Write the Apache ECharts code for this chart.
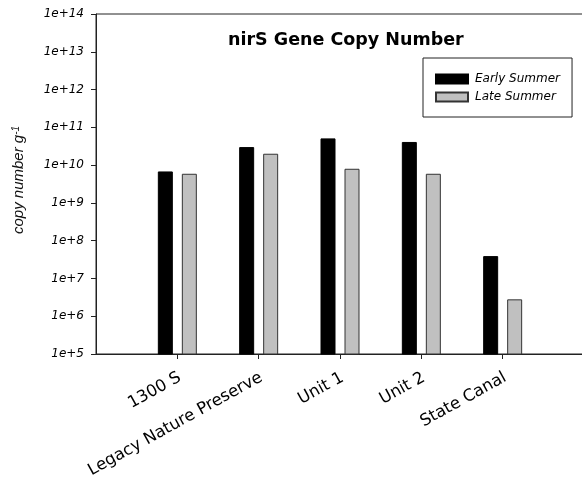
<!DOCTYPE html>
<html><head><meta charset="utf-8">
<script src="https://cdn.jsdelivr.net/npm/echarts@6/dist/echarts.min.js"></script>
<style>html,body{margin:0;padding:0;background:#fff}#c{width:582px;height:483px}</style>
</head><body><div id="c"></div>
<script>
// categories (blank slots pad the axis at both ends, as in the original)
const categories = ['', '1300 S', 'Legacy Nature Preserve', 'Unit 1', 'Unit 2', 'State Canal', ''];
const earlySummer = [null, 6.8e9, 3.0e10, 5.1e10, 4.1e10, 3.9e7, null];
const lateSummer  = [null, 5.9e9, 2.0e10, 8.0e9, 5.9e9, 2.8e6, null];
const seriesNames = ['Early Summer', 'Late Summer'];
const yMin = 1e5, yMax = 1e14;
const titleText = 'nirS Gene Copy Number';

const chart = echarts.init(document.getElementById('c'), null, {renderer: 'canvas'});
const lineColor = '#222';
chart.setOption({
  animation: false,
  backgroundColor: '#fff',
  title: {
    text: titleText, left: 228, top: 31, padding: 0,
    textStyle: {fontFamily: 'DejaVu Sans', fontWeight: 'bold', fontSize: 17.5, color: '#000'}
  },
  legend: {
    data: seriesNames, orient: 'vertical', left: 423, top: 58,
    itemWidth: 32, itemHeight: 9, itemGap: 6,
    borderColor: lineColor, borderWidth: 1, padding: [15, 12, 14, 12],
    icon: 'rect',
    textStyle: {fontFamily: 'DejaVu Sans', fontStyle: 'italic', fontSize: 12, color: '#000', padding: [0, 0, 0, 2]}
  },
  grid: {
    left: 96, top: 14, width: 488, height: 340,
    outerBoundsMode: 'none', containLabel: false,
    show: true, borderColor: lineColor, borderWidth: 1, backgroundColor: 'transparent'
  },
  xAxis: {
    type: 'category', data: categories, boundaryGap: false,
    axisLine: {lineStyle: {color: lineColor, width: 1}},
    axisTick: {show: true, length: 5, lineStyle: {color: lineColor}, interval: (i, v) => v !== ''},
    axisLabel: {
      interval: 0, rotate: 29, margin: 24, color: '#000',
      fontFamily: 'DejaVu Sans', fontSize: 16.5, padding: [0, -3, 0, 0]
    },
    splitLine: {show: false}
  },
  yAxis: {
    type: 'log', logBase: 10, min: yMin, max: yMax, interval: 1,
    axisLine: {show: true, lineStyle: {color: lineColor, width: 1}},
    axisTick: {show: true, length: 5, lineStyle: {color: lineColor}},
    minorTick: {show: false},
    splitLine: {show: false},
    axisLabel: {
      margin: 12, color: '#000', fontFamily: 'DejaVu Sans', fontStyle: 'italic', fontSize: 12,
      formatter: v => '1e+' + Math.round(Math.log10(v))
    },
    name: '{n|copy number g}{s|-1}',
    nameLocation: 'middle', nameGap: 70, nameRotate: 90,
    nameTextStyle: {
      padding: [0, 0, 0, 8],
      rich: {
        n: {fontFamily: 'Liberation Sans', fontStyle: 'italic', fontSize: 15, color: '#111'},
        s: {fontFamily: 'Liberation Sans', fontStyle: 'italic', fontSize: 10, color: '#111', verticalAlign: 'top'}
      }
    }
  },
  series: [
    {
      name: seriesNames[0], type: 'bar', data: earlySummer, clip: true,
      barWidth: 15, barGap: '60%',
      itemStyle: {color: '#000', borderColor: '#000', borderWidth: 1}
    },
    {
      name: seriesNames[1], type: 'bar', data: lateSummer, clip: true,
      barWidth: 15, barGap: '60%',
      itemStyle: {color: '#c0c0c0', borderColor: '#333', borderWidth: 1}
    }
  ]
});
</script></body></html>
